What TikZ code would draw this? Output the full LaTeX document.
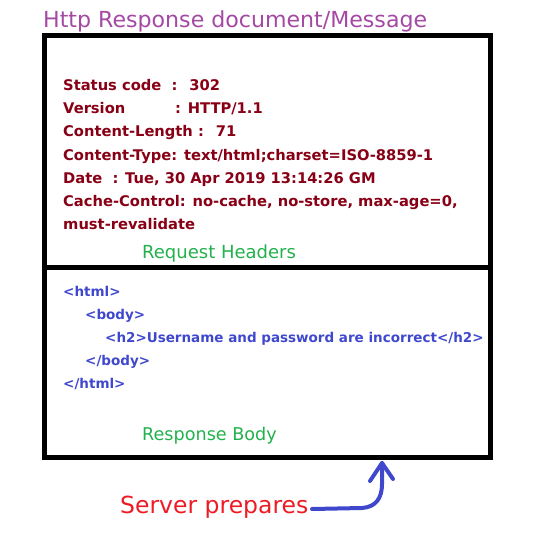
\documentclass[tikz,border=0pt]{standalone}
\usepackage{fontspec}
\setmainfont{DejaVu Sans}
\usetikzlibrary{arrows.meta}
\definecolor{titlepurple}{RGB}{163,73,164}
\definecolor{hdrred}{RGB}{136,0,21}
\definecolor{lblgreen}{RGB}{34,177,76}
\definecolor{codeblue}{RGB}{63,72,204}
\definecolor{noteRed}{RGB}{237,28,36}
\tikzset{
  frame/.style={line width=5pt, draw=black},
  hdr/.style={anchor=base west, inner sep=0pt, text=hdrred, font=\fontsize{14.7}{16}\selectfont\bfseries},
  code/.style={anchor=base west, inner sep=0pt, text=codeblue, font=\fontsize{13.5}{16}\selectfont\bfseries},
  sect/.style={anchor=base west, inner sep=0pt, text=lblgreen, font=\fontsize{18}{20}\selectfont},
  curvy/.style={codeblue, line width=4pt, line cap=round, line join=round},
}
\begin{document}
\begin{tikzpicture}[x=1pt,y=-1pt]
\useasboundingbox (0,0) rectangle (534,560);
% title
\node[anchor=base west, inner sep=0pt, text=titlepurple, font=\fontsize{22.1}{26}\selectfont] (title) at (43,27) {Http Response document/Message};
% message frame and divider
\draw[frame] (44.5,35.5) rectangle (490.5,457.5);
\coordinate (divL) at (42,267.5);
\coordinate (divR) at (493,267.5);
\draw[frame] (divL) -- (divR);
% header lines
\node[hdr] (h1) at (63,90) {Status code \ : \ 302};
\node[hdr] (h2) at (63,113) {Version \qquad\ \ \ : HTTP/1.1};
\node[hdr] (h3) at (63,136) {Content-Length : \ 71};
\node[hdr] (h4) at (63,160) {Content-Type: text/html;charset=ISO-8859-1};
\node[hdr] (h5) at (63,183) {Date \ : Tue, 30 Apr 2019 13:14:26 GM};
\node[hdr] (h6) at (63,206) {Cache-Control: no-cache, no-store, max-age=0,};
\node[hdr] (h7) at (63,229) {must-revalidate};
\node[sect] (reqh) at (142,258) {Request Headers};
% body lines
\node[code] (b1) at (63,296) {<html>};
\node[code] (b2) at (85,319) {<body>};
\node[code] (b3) at (105,342) {<h2>Username and password are incorrect</h2>};
\node[code] (b4) at (85,365) {</body>};
\node[code] (b5) at (63,388) {</html>};
\node[sect, font=\fontsize{17.6}{20}\selectfont] (resb) at (142,440) {Response Body};
% annotation with curved arrow up to the frame
\node[anchor=base west, inner sep=0pt, text=noteRed, font=\fontsize{23.5}{26}\selectfont] (srv) at (120,513) {Server prepares};
\coordinate (tail) at (312,509);
\coordinate (tip) at (382,463);
\draw[curvy] (tail) -- (362,508) .. controls (376,507) and (382,498) .. (382,484) -- (tip);
\draw[curvy] (370,481) -- (tip) -- (393,479);
\end{tikzpicture}
\end{document}
